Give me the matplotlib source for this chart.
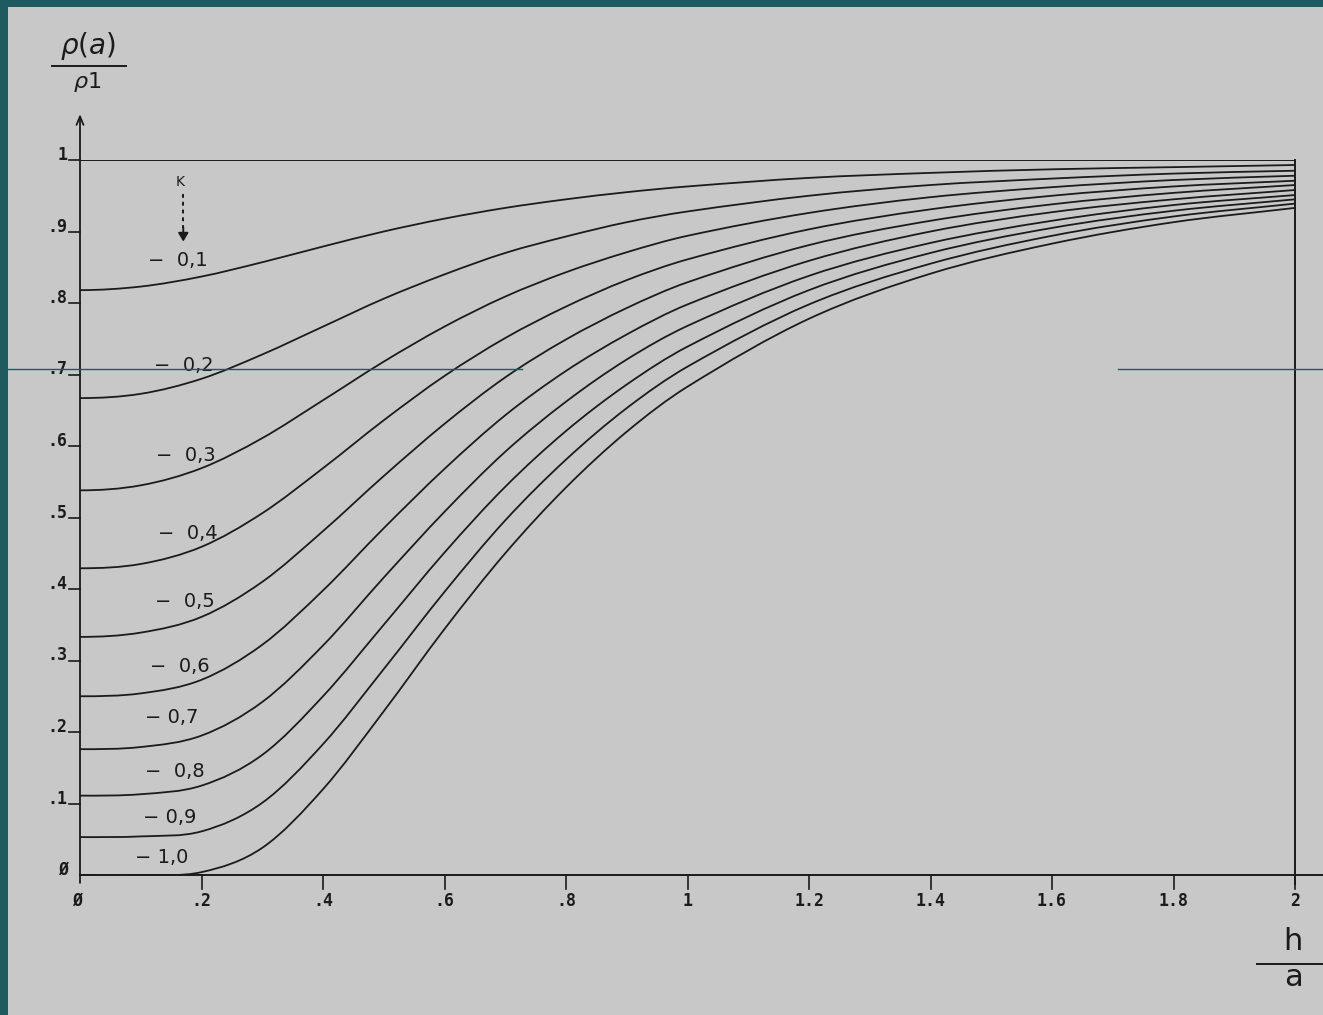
import matplotlib
matplotlib.use('Agg')
import matplotlib.pyplot as plt
from matplotlib.lines import Line2D
from matplotlib.patches import Rectangle, PathPatch
from matplotlib.path import Path

W, H = 1323, 1015
PAPER = '#c9c8c8'
INK = '#1b1b1b'
TEAL = '#1f5a60'

# h/a positions and rho(a)/rho1 values for each K
h = [0, 0.1, 0.2, 0.3, 0.4, 0.5, 0.6, 0.7, 0.8, 0.9, 1.0, 1.2, 1.4, 1.6, 1.8, 2.0]
k01 = [0.818, 0.823, 0.837, 0.857, 0.879, 0.900, 0.918, 0.933, 0.945, 0.955, 0.963, 0.975, 0.982, 0.987, 0.990, 0.993]
k02 = [0.667, 0.673, 0.694, 0.728, 0.767, 0.806, 0.840, 0.870, 0.893, 0.913, 0.928, 0.950, 0.965, 0.974, 0.981, 0.985]
k03 = [0.538, 0.545, 0.569, 0.611, 0.664, 0.718, 0.767, 0.809, 0.843, 0.871, 0.894, 0.926, 0.948, 0.962, 0.972, 0.978]
k04 = [0.429, 0.435, 0.459, 0.506, 0.569, 0.636, 0.698, 0.751, 0.795, 0.832, 0.861, 0.903, 0.931, 0.950, 0.963, 0.971]
k05 = [0.333, 0.339, 0.361, 0.410, 0.481, 0.558, 0.631, 0.696, 0.749, 0.793, 0.829, 0.881, 0.915, 0.938, 0.954, 0.965]
k06 = [0.250, 0.254, 0.273, 0.322, 0.398, 0.485, 0.568, 0.643, 0.705, 0.756, 0.798, 0.859, 0.900, 0.927, 0.945, 0.958]
k07 = [0.176, 0.179, 0.195, 0.242, 0.321, 0.416, 0.508, 0.592, 0.662, 0.721, 0.768, 0.838, 0.884, 0.915, 0.937, 0.951]
k08 = [0.111, 0.113, 0.125, 0.168, 0.250, 0.350, 0.451, 0.543, 0.621, 0.686, 0.739, 0.818, 0.870, 0.905, 0.929, 0.945]
k09 = [0.053, 0.054, 0.061, 0.101, 0.183, 0.288, 0.396, 0.496, 0.581, 0.653, 0.711, 0.798, 0.855, 0.894, 0.921, 0.939]
k10 = [0.000, 0.000, 0.004, 0.038, 0.120, 0.229, 0.344, 0.450, 0.542, 0.620, 0.683, 0.778, 0.841, 0.883, 0.913, 0.933]

curves = [k01, k02, k03, k04, k05, k06, k07, k08, k09, k10]
curve_labels = ['−  0,1', '−  0,2', '−  0,3', '−  0,4', '−  0,5',
                '−  0,6', '− 0,7', '−  0,8', '− 0,9', '− 1,0']
# where each K label sits (h/a, rho)
label_pos = [(0.161, 0.860), (0.171, 0.713), (0.174, 0.587), (0.178, 0.477),
             (0.173, 0.382), (0.165, 0.292), (0.151, 0.220), (0.156, 0.145),
             (0.148, 0.080), (0.135, 0.025)]

yticks = [0.1, 0.2, 0.3, 0.4, 0.5, 0.6, 0.7, 0.8, 0.9, 1.0]
ytick_labels = ['.1', '.2', '.3', '.4', '.5', '.6', '.7', '.8', '.9', '1']
xticks = [0.2, 0.4, 0.6, 0.8, 1.0, 1.2, 1.4, 1.6, 1.8, 2.0]
xtick_labels = ['.2', '.4', '.6', '.8', '1', '1.2', '1.4', '1.6', '1.8', '2']


def fx(px):
    return px / W


def fy(py):
    return 1 - py / H


def smooth_path(xs, ys):
    # cubic Hermite through the points (slopes from neighbours), as Bezier segments
    n = len(xs)
    slopes = []
    for i in range(n):
        if i == 0:
            slopes.append(0.0)  # curves leave the axis flat
        elif i == n - 1:
            slopes.append((ys[i] - ys[i - 1]) / (xs[i] - xs[i - 1]))
        else:
            slopes.append((ys[i + 1] - ys[i - 1]) / (xs[i + 1] - xs[i - 1]))
    verts = [(xs[0], ys[0])]
    codes = [Path.MOVETO]
    for i in range(n - 1):
        dx = xs[i + 1] - xs[i]
        c1 = (xs[i] + dx / 3, ys[i] + slopes[i] * dx / 3)
        c2 = (xs[i + 1] - dx / 3, ys[i + 1] - slopes[i + 1] * dx / 3)
        verts += [c1, c2, (xs[i + 1], ys[i + 1])]
        codes += [Path.CURVE4] * 3
    return Path(verts, codes)


fig = plt.figure(figsize=(W / 100, H / 100), dpi=100)
fig.patch.set_facecolor(PAPER)

# slide frame and stray line
fig.add_artist(Rectangle((0, 0), fx(8), 1, transform=fig.transFigure, color=TEAL, lw=0))
fig.add_artist(Rectangle((0, fy(7)), 1, fy(0) - fy(7), transform=fig.transFigure, color=TEAL, lw=0))
fig.add_artist(Line2D([fx(8), fx(522)], [fy(369), fy(369)], color=TEAL, lw=1.0))
fig.add_artist(Line2D([fx(1118), fx(1323)], [fy(369), fy(369)], color=TEAL, lw=1.0))

ax = fig.add_axes([fx(80), fy(875), fx(1295) - fx(80), fy(160) - fy(875)])
ax.set_xlim(0, 2)
ax.set_ylim(0, 1)
ax.axis('off')

mono = dict(family='DejaVu Sans Mono', fontweight='bold', fontsize=12, color=INK)

# axes drawn by hand, plotter style
ax.plot([0, 2.06], [0, 0], color=INK, lw=1.4, clip_on=False)
ax.plot([2, 2], [-0.012, 1], color=INK, lw=1.4, clip_on=False)
ax.annotate('', xy=(0, 1.068), xytext=(0, -0.015), xycoords='data',
            arrowprops=dict(arrowstyle='->,head_length=0.6,head_width=0.25',
                            color=INK, lw=1.3), annotation_clip=False)

for v, lab in zip(yticks, ytick_labels):
    ax.plot([-0.018, 0], [v, v], color=INK, lw=1.2, clip_on=False)
    ax.text(-0.02, v, lab, ha='right', va='baseline', **mono)
ax.text(-0.02, 0, 'Ø', ha='right', va='baseline', **mono)

for t, lab in zip(xticks, xtick_labels):
    ax.plot([t, t], [0, -0.02], color=INK, lw=1.2, clip_on=False)
    ax.text(t, -0.036, lab, ha='center', va='center', **mono)
ax.text(-0.005, -0.036, 'Ø', ha='center', va='center', **mono)

# rho = 1 line and the K family
ax.plot([h[0], h[-1]], [1, 1], color=INK, lw=1.4)
for vals in curves:
    ax.add_patch(PathPatch(smooth_path(h, vals), fill=False, edgecolor=INK, lw=1.3))

for lab, (lx, ly) in zip(curve_labels, label_pos):
    ax.text(lx, ly, lab, ha='center', va='center', fontsize=14, color=INK)

ax.text(0.165, 0.969, 'K', ha='center', va='center', fontsize=10, color=INK)
ax.plot([0.17, 0.17], [0.952, 0.905], color=INK, lw=1.4, ls=(0, (2, 2)))
ax.annotate('', xy=(0.17, 0.882), xytext=(0.17, 0.91),
            arrowprops=dict(arrowstyle='-|>,head_length=0.5,head_width=0.3',
                            color=INK, lw=1.4))

# axis titles as stacked fractions
fig.text(fx(88), fy(46), r'$\rho(a)$', ha='center', va='center', fontsize=20, color=INK)
fig.add_artist(Line2D([fx(52), fx(126)], [fy(66), fy(66)], color=INK, lw=1.4))
fig.text(fx(87), fy(82), r'$\rho$1', ha='center', va='center', fontsize=16, color=INK)

fig.text(fx(1293), fy(942), 'h', ha='center', va='center', fontsize=22, color=INK)
fig.add_artist(Line2D([fx(1257), fx(1323)], [fy(964), fy(964)], color=INK, lw=1.4))
fig.text(fx(1293), fy(978), 'a', ha='center', va='center', fontsize=22, color=INK)

fig.savefig('out.png', dpi=100, facecolor=fig.get_facecolor())
